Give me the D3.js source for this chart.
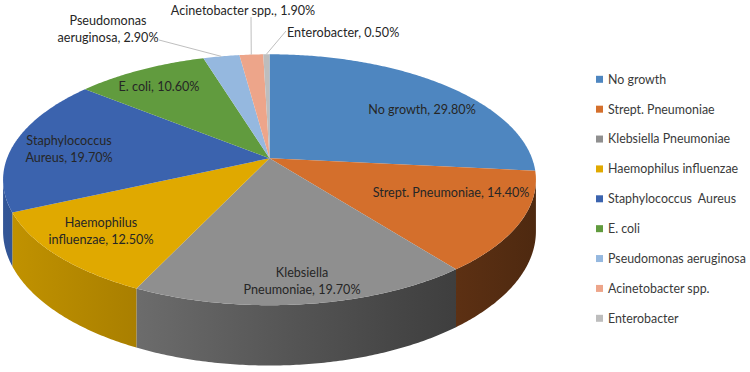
<!DOCTYPE html>
<html>
<head>
    <title>Isolates 3D Pie</title>
    <script src="https://cdn.jsdelivr.net/npm/d3@7/dist/d3.min.js"></script>
    <style>
        body { margin: 0; background: #fff; }
        svg { display: block; font-family: Lato, "Open Sans", sans-serif; }
        .lbl { font-size: 12.6px; fill: #262626; }
        .leg { font-size: 12.4px; fill: #3a3a3a; white-space: pre; }
    </style>
</head>
<body>
    <svg width="750" height="372" id="mainsvg"></svg>
    <script>
        const categories = ['No growth', 'Strept. Pneumoniae', 'Klebsiella Pneumoniae', 'Haemophilus influenzae',
            'Staphylococcus  Aureus', 'E. coli', 'Pseudomonas aeruginosa', 'Acinetobacter spp.', 'Enterobacter'];
        const values = [29.8, 14.4, 19.7, 12.5, 19.7, 10.6, 2.9, 1.9, 0.5];
        const colors = ['#4e86c0', '#d46f2c', '#8f8f8f', '#e0a900', '#3b63ae', '#619b3e', '#95b8df', '#eda58a', '#bdbdbd'];
        const labelLines = [
            ['No growth, 29.80%'],
            ['Strept. Pneumoniae, 14.40%'],
            ['Klebsiella', 'Pneumoniae, 19.70%'],
            ['Haemophilus', 'influenzae, 12.50%'],
            ['Staphylococcus', 'Aureus, 19.70%'],
            ['E. coli, 10.60%'],
            ['Pseudomonas', 'aeruginosa, 2.90%'],
            ['Acinetobacter spp., 1.90%'],
            ['Enterobacter, 0.50%']
        ];

        // label layout: [x, y of first line, anchor, leader start or null]
        const labelLayout = [
            [422, 110, 'middle', null],
            [451, 193, 'middle', null],
            [302, 273, 'middle', null],
            [101, 223, 'middle', null],
            [69, 141, 'middle', null],
            [159, 87, 'middle', null],
            [108, 21, 'middle', [159, 40]],
            [243, 11, 'middle', [251, 17]],
            [287, 33, 'start', [286, 31]]
        ];

        const svg = d3.select('#mainsvg');

        // perspective projection of the tilted disc
        const cx = 269.5, cy = 158.3;
        const rx = 262.5, ry = 121.8, persp = 0.171, depth = 50;
        function proj(f, t) {
            const c = Math.cos(t), s = Math.sin(t), w = 1 + persp * f * c;
            return [cx + rx * f * s / w, cy - ry * f * c / w];
        }
        function drop(t) { return depth / (1 + persp * Math.cos(t)); }
        function rim(a0, a1) {
            const n = Math.max(2, Math.ceil(Math.abs(a1 - a0) / 0.01));
            return d3.range(n + 1).map(i => a0 + (a1 - a0) * i / n);
        }

        const arcs = d3.pie().sort(null).value(d => d)(values);
        const defs = svg.append('defs');
        const left = cx - 266.5, right = cx + 266.5;

        // side shading: lighter on the left, darker on the right
        arcs.forEach((a, i) => {
            const grad = defs.append('linearGradient')
                .attr('id', 'side' + i)
                .attr('gradientUnits', 'userSpaceOnUse')
                .attr('x1', left).attr('x2', right).attr('y1', 0).attr('y2', 0);
            [0, 0.25, 0.5, 0.75, 1].forEach(t => {
                grad.append('stop')
                    .attr('offset', t)
                    .attr('stop-color', d3.color(colors[i]).darker(0.4 + 2.4 * Math.pow(t, 1.3)));
            });
        });

        const tR = Math.acos(-persp), tL = 2 * Math.PI - tR;
        const line = d3.line();

        const sides = svg.append('g');
        arcs.forEach((a, i) => {
            const s0 = Math.max(a.startAngle, tR), s1 = Math.min(a.endAngle, tL);
            if (s0 >= s1) return;
            const top = rim(s0, s1).map(t => proj(1, t));
            const bottom = rim(s1, s0).map(t => { const p = proj(1, t); return [p[0], p[1] + drop(t)]; });
            sides.append('path')
                .attr('d', line(top.concat(bottom)) + 'Z')
                .attr('fill', 'url(#side' + i + ')');
        });

        const tops = svg.append('g');
        arcs.forEach((a, i) => {
            const pts = [[cx, cy]].concat(rim(a.startAngle, a.endAngle).map(t => proj(1, t)));
            tops.append('path')
                .attr('d', line(pts) + 'Z')
                .attr('fill', colors[i]);
        });

        // leader lines for small slices
        const labels = svg.append('g');
        arcs.forEach((a, i) => {
            const lay = labelLayout[i];
            if (!lay[3]) return;
            const end = proj(1, (a.startAngle + a.endAngle) / 2);
            labels.append('line')
                .attr('x1', lay[3][0]).attr('y1', lay[3][1])
                .attr('x2', end[0]).attr('y2', end[1])
                .attr('stroke', '#bfbfbf')
                .attr('stroke-width', 1);
        });

        labelLines.forEach((lines, i) => {
            const lay = labelLayout[i];
            const txt = labels.append('text')
                .attr('class', 'lbl')
                .attr('text-anchor', lay[2]);
            lines.forEach((s, j) => {
                txt.append('tspan')
                    .attr('x', lay[0])
                    .attr('y', lay[1] + j * 16.5)
                    .attr('dy', '0.35em')
                    .text(s);
            });
        });

        // legend
        const rowY = d3.scalePoint().domain(categories).range([79.3, 318.3]);
        const legend = svg.append('g');
        const rows = legend.selectAll('g')
            .data(categories)
            .enter()
            .append('g')
                .attr('transform', d => `translate(596, ${rowY(d)})`);
        rows.append('rect')
            .attr('x', 0).attr('y', -3.5)
            .attr('width', 7).attr('height', 7)
            .attr('fill', (d, i) => colors[i]);
        rows.append('text')
            .attr('class', 'leg')
            .attr('x', 12)
            .attr('dy', '0.35em')
            .text(d => d);
    </script>
</body>
</html>
